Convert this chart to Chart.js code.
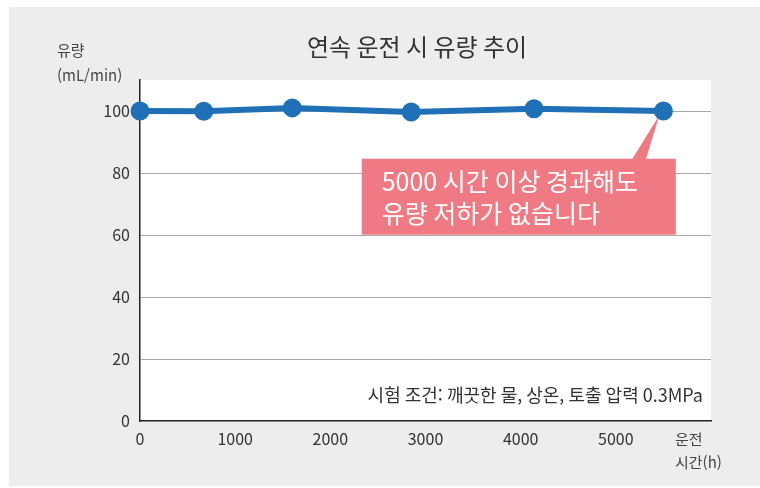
<!DOCTYPE html>
<html lang="ko">
<head>
<meta charset="utf-8">
<script src="https://cdn.jsdelivr.net/npm/chart.js@4/dist/chart.umd.min.js"></script>
<style>
  html, body { margin: 0; padding: 0; background: #fff; }
  #wrap { width: 760px; height: 488px; position: relative; }
</style>
</head>
<body>
<div id="wrap"><canvas id="flowChart"></canvas></div>
<script>
// 데이터
const hours = [0, 670, 1600, 2850, 4140, 5500];
const flow = [100, 99.9, 101, 99.7, 100.7, 100];
const yTicks = [0, 20, 40, 60, 80, 100];
const xTicks = [0, 1000, 2000, 3000, 4000, 5000];

const titleText = '연속 운전 시 유량 추이';
const yTitle = ['유량', '(mL/min)'];
const xTitle = ['운전', '시간(h)'];
const noteText = '시험 조건: 깨끗한 물, 상온, 토출 압력 0.3MPa';
const calloutLines = ['5000 시간 이상 경과해도', '유량 저하가 없습니다'];

const FONT = '"Noto Sans CJK KR", "Noto Sans", sans-serif';

// 배경 + 제목 + 축 제목 + 주석
const decorPlugin = {
  id: 'decor',
  beforeDraw(chart) {
    const c = chart.ctx;
    c.save();
    c.fillStyle = '#ffffff';
    c.fillRect(0, 0, chart.width, chart.height);
    c.fillStyle = '#ededed';
    c.fillRect(9, 7, chart.width - 9, chart.height - 9);
    const a = chart.chartArea;
    c.fillStyle = '#ffffff';
    c.fillRect(a.left, a.top, a.right - a.left, a.bottom - a.top);
    c.restore();
  },
  beforeDatasetsDraw(chart) {
    // 말풍선
    const c = chart.ctx;
    const xs = chart.scales.x, ys = chart.scales.y;
    const last = hours.length - 1;
    const px = xs.getPixelForValue(hours[last]);
    const py = ys.getPixelForValue(flow[last]);
    const bl = xs.getPixelForValue(2330), br = xs.getPixelForValue(5630);
    const bt = ys.getPixelForValue(84.6), bb = ys.getPixelForValue(60.1);
    c.save();
    c.fillStyle = '#f07a83';
    c.beginPath();
    c.moveTo(br - 44, bt + 1);
    c.lineTo(px - 4, py + 4);
    c.lineTo(br - 30, bt + 1);
    c.closePath();
    c.fill();
    c.fillRect(bl, bt, br - bl, bb - bt);
    c.fillStyle = '#ffffff';
    c.font = '25px ' + FONT;
    c.textBaseline = 'middle';
    c.textAlign = 'left';
    c.fillText(calloutLines[0], bl + 20, bt + 23);
    c.fillText(calloutLines[1], bl + 20, bt + 55);
    c.restore();
  },
  afterDraw(chart) {
    const c = chart.ctx;
    const a = chart.chartArea;
    c.save();
    c.fillStyle = '#333';
    c.textBaseline = 'middle';
    c.font = '24px ' + FONT;
    c.textAlign = 'center';
    c.fillText(titleText, 417, 47);
    c.font = '15px ' + FONT;
    c.textAlign = 'left';
    c.fillStyle = '#444';
    c.fillText(yTitle[0], 57, 50);
    c.fillText(yTitle[1], 57, 75);
    c.fillText(xTitle[0], 675, 439);
    c.fillText(xTitle[1], 675, 462);
    c.font = '18px ' + FONT;
    c.fillStyle = '#333';
    c.textAlign = 'right';
    c.fillText(noteText, a.right - 8, a.bottom - 26);
    c.restore();
  }
};

new Chart(document.getElementById('flowChart'), {
  type: 'line',
  data: {
    datasets: [{
      label: '유량',
      data: hours.map((h, i) => ({ x: h, y: flow[i] })),
      borderColor: '#1f70b6',
      backgroundColor: '#1f70b6',
      borderWidth: 6,
      pointRadius: 6.5,
      pointHoverRadius: 6.5,
      tension: 0,
      clip: false
    }]
  },
  options: {
    responsive: true,
    maintainAspectRatio: false,
    animation: false,
    layout: { padding: { top: 80, right: 49, left: 0, bottom: 0 } },
    plugins: {
      legend: { display: false },
      tooltip: { enabled: false }
    },
    scales: {
      x: {
        type: 'linear',
        min: 0,
        max: 6000,
        afterFit: s => { s.height = 67; },
        afterBuildTicks: s => { s.ticks = xTicks.concat([6000]).map(v => ({ value: v })); },
        grid: { display: false },
        border: { color: '#222', width: 1.5 },
        ticks: {
          color: '#333',
          padding: 0,
          font: { family: FONT, size: 16 },
          callback: v => (xTicks.includes(v) ? String(v) : '')
        }
      },
      y: {
        min: 0,
        max: 110,
        afterFit: s => { s.width = 140; },
        afterBuildTicks: s => { s.ticks = yTicks.map(v => ({ value: v })); },
        grid: {
          color: ctx => (ctx.tick && ctx.tick.value === 0 ? 'transparent' : '#a8a8a8'),
          lineWidth: 1,
          drawTicks: false
        },
        border: { color: '#222', width: 1.5 },
        ticks: {
          color: '#333',
          padding: 10,
          font: { family: FONT, size: 16 }
        }
      }
    }
  },
  plugins: [decorPlugin]
});
</script>
</body>
</html>
